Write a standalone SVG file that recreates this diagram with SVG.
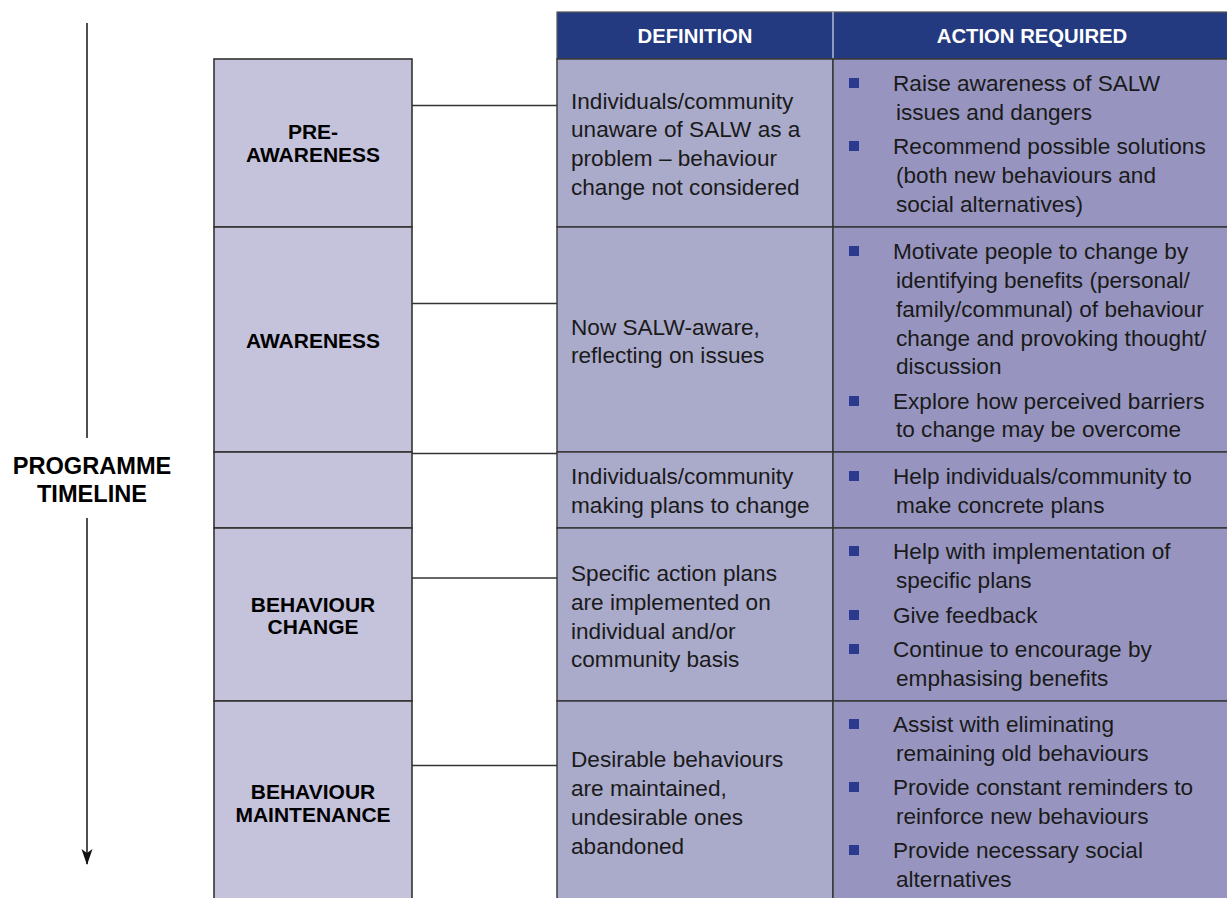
<svg xmlns="http://www.w3.org/2000/svg" width="1227" height="898" viewBox="0 0 1227 898">
<defs>
<style>
.bg{fill:#ffffff}
.stage{fill:#c5c3dc;stroke:#333333;stroke-width:1.6}
.def{fill:#aaaacb;stroke:#333333;stroke-width:1.4}
.act{fill:#9795bf;stroke:#333333;stroke-width:1.4}
.hdr{fill:#243a80;stroke:#555555;stroke-width:1.2}
.lbl{font-family:"Liberation Sans",Arial,sans-serif;font-weight:bold;font-size:21px;fill:#000;text-anchor:middle}
.tl{font-family:"Liberation Sans",Arial,sans-serif;font-weight:bold;font-size:23.6px;fill:#000;text-anchor:middle}
.ht{font-family:"Liberation Sans",Arial,sans-serif;font-weight:bold;font-size:20.3px;fill:#ffffff;text-anchor:middle}
.tx{font-family:"Liberation Sans",Arial,sans-serif;font-size:22.6px;fill:#1a1a1a}
.bul{fill:#2b3a8e}
.con{stroke:#333333;stroke-width:1.4;fill:none}
</style>
<marker id="arr" markerWidth="16" markerHeight="12" refX="15" refY="6" orient="auto" markerUnits="userSpaceOnUse" viewBox="0 0 16 12">
<path d="M0,0.5 L16,6 L0,11.5 L4,6 Z" fill="#111111"/>
</marker>
</defs>
<rect class="bg" x="0" y="0" width="1227" height="898"/>

<g id="timeline">
<line x1="87" y1="23" x2="87" y2="438" stroke="#222222" stroke-width="1.6"/>
<line x1="87" y1="518" x2="87" y2="864" stroke="#222222" stroke-width="1.6" marker-end="url(#arr)"/>
<text class="tl" x="92" y="474">PROGRAMME</text>
<text class="tl" x="92" y="502">TIMELINE</text>
</g>

<g id="header">
<rect class="hdr" x="557" y="12" width="676" height="47"/>
<line x1="833" y1="12" x2="833" y2="59" stroke="#d8d8e8" stroke-width="1.2"/>
<text class="ht" x="695" y="43">DEFINITION</text>
<text class="ht" x="1032" y="43">ACTION REQUIRED</text>
</g>

<g id="connectors">
<line class="con" x1="412" y1="105.5" x2="557" y2="105.5"/>
<line class="con" x1="412" y1="303.5" x2="557" y2="303.5"/>
<line class="con" x1="412" y1="453.5" x2="557" y2="453.5"/>
<line class="con" x1="412" y1="578" x2="557" y2="578"/>
<line class="con" x1="412" y1="765.5" x2="557" y2="765.5"/>
</g>

<g id="pre-awareness">
<rect class="stage" x="214" y="59" width="198" height="168"/>
<text class="lbl" x="313" y="139">PRE-</text>
<text class="lbl" x="313" y="162">AWARENESS</text>
<rect class="def" x="557" y="59" width="276" height="168"/>
<text class="tx" x="571" y="109">Individuals/community</text>
<text class="tx" x="571" y="137">unaware of SALW as a</text>
<text class="tx" x="571" y="166">problem – behaviour</text>
<text class="tx" x="571" y="195">change not considered</text>
<rect class="act" x="833" y="59" width="400" height="168"/>
<rect class="bul" x="849" y="78" width="10" height="10"/>
<text class="tx" x="893" y="91">Raise awareness of SALW</text>
<text class="tx" x="896" y="120">issues and dangers</text>
<rect class="bul" x="849" y="141" width="10" height="10"/>
<text class="tx" x="893" y="154">Recommend possible solutions</text>
<text class="tx" x="896" y="183">(both new behaviours and</text>
<text class="tx" x="896" y="212">social alternatives)</text>
</g>

<g id="awareness">
<rect class="stage" x="214" y="227" width="198" height="225"/>
<text class="lbl" x="313" y="348">AWARENESS</text>
<rect class="def" x="557" y="227" width="276" height="225"/>
<text class="tx" x="571" y="335">Now SALW-aware,</text>
<text class="tx" x="571" y="363">reflecting on issues</text>
<rect class="act" x="833" y="227" width="400" height="225"/>
<rect class="bul" x="849" y="246" width="10" height="10"/>
<text class="tx" x="893" y="259">Motivate people to change by</text>
<text class="tx" x="896" y="288">identifying benefits (personal/</text>
<text class="tx" x="896" y="317">family/communal) of behaviour</text>
<text class="tx" x="896" y="346">change and provoking thought/</text>
<text class="tx" x="896" y="374">discussion</text>
<rect class="bul" x="849" y="396" width="10" height="10"/>
<text class="tx" x="893" y="409">Explore how perceived barriers</text>
<text class="tx" x="896" y="437">to change may be overcome</text>
</g>

<g id="preparation">
<rect class="stage" x="214" y="452" width="198" height="76"/>
<rect class="def" x="557" y="452" width="276" height="76"/>
<text class="tx" x="571" y="484">Individuals/community</text>
<text class="tx" x="571" y="513">making plans to change</text>
<rect class="act" x="833" y="452" width="400" height="76"/>
<rect class="bul" x="849" y="471" width="10" height="10"/>
<text class="tx" x="893" y="484">Help individuals/community to</text>
<text class="tx" x="896" y="513">make concrete plans</text>
</g>

<g id="behaviour-change">
<rect class="stage" x="214" y="528" width="198" height="173"/>
<text class="lbl" x="313" y="612">BEHAVIOUR</text>
<text class="lbl" x="313" y="634">CHANGE</text>
<rect class="def" x="557" y="528" width="276" height="173"/>
<text class="tx" x="571" y="581">Specific action plans</text>
<text class="tx" x="571" y="610">are implemented on</text>
<text class="tx" x="571" y="639">individual and/or</text>
<text class="tx" x="571" y="667">community basis</text>
<rect class="act" x="833" y="528" width="400" height="173"/>
<rect class="bul" x="849" y="546" width="10" height="10"/>
<text class="tx" x="893" y="559">Help with implementation of</text>
<text class="tx" x="896" y="588">specific plans</text>
<rect class="bul" x="849" y="610" width="10" height="10"/>
<text class="tx" x="893" y="623">Give feedback</text>
<rect class="bul" x="849" y="644" width="10" height="10"/>
<text class="tx" x="893" y="657">Continue to encourage by</text>
<text class="tx" x="896" y="686">emphasising benefits</text>
</g>

<g id="behaviour-maintenance">
<rect class="stage" x="214" y="701" width="198" height="210"/>
<text class="lbl" x="313" y="799">BEHAVIOUR</text>
<text class="lbl" x="313" y="822">MAINTENANCE</text>
<rect class="def" x="557" y="701" width="276" height="210"/>
<text class="tx" x="571" y="767">Desirable behaviours</text>
<text class="tx" x="571" y="796">are maintained,</text>
<text class="tx" x="571" y="825">undesirable ones</text>
<text class="tx" x="571" y="854">abandoned</text>
<rect class="act" x="833" y="701" width="400" height="210"/>
<rect class="bul" x="849" y="719" width="10" height="10"/>
<text class="tx" x="893" y="732">Assist with eliminating</text>
<text class="tx" x="896" y="761">remaining old behaviours</text>
<rect class="bul" x="849" y="782" width="10" height="10"/>
<text class="tx" x="893" y="795">Provide constant reminders to</text>
<text class="tx" x="896" y="824">reinforce new behaviours</text>
<rect class="bul" x="849" y="845" width="10" height="10"/>
<text class="tx" x="893" y="858">Provide necessary social</text>
<text class="tx" x="896" y="887">alternatives</text>
</g>
</svg>
